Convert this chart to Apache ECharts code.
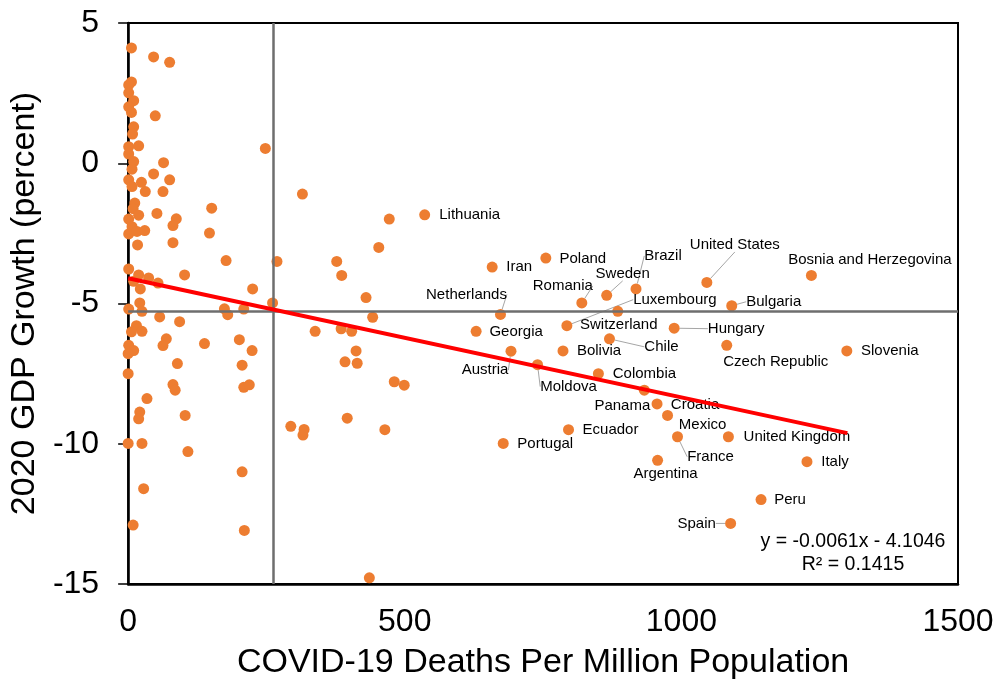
<!DOCTYPE html>
<html><head><meta charset="utf-8">
<script src="https://cdn.jsdelivr.net/npm/echarts@6/dist/echarts.min.js"></script>
<style>html,body{margin:0;padding:0;background:#fff}#c{width:998px;height:685px}</style>
</head><body><div id="c"></div><script>
const FONT = '"Liberation Sans", Arial, Helvetica, sans-serif';

// Unlabeled countries: deaths per million, GDP growth
const otherDeaths = [6,46,75,6,1,1,10,1,6,49,10,8,1,19,1,10,7,64,248,46,1,24,75,7,31,63,12,9,315,151,1,19,52,87,81,7,1,16,30,147,17,81,177,269,1,19,37,54,102,10,22,225,261,21,
  1,25,57,93,174,180,209,15,6,25,1,10,0,69,63,138,201,224,89,206,0,81,85,209,219,34,21,19,103,0,25,108,206,28,9,210,
  472,453,377,386,430,442,338,385,404,412,392,414,481,499,396,294,318,316,464,436];
const otherGrowth = [4.11,3.79,3.60,2.90,2.79,2.51,2.23,2.01,1.81,1.69,1.30,1.04,0.59,0.62,0.33,0.06,-0.21,0.02,0.53,-0.38,-0.59,-0.68,-0.59,-0.83,-1.01,-1.01,-1.42,-1.62,-1.10,-1.60,-1.99,-1.85,-1.79,-1.98,-2.22,-2.26,-2.52,-2.43,-2.40,-2.49,-2.91,-2.83,-3.47,-3.50,-3.77,-3.98,-4.09,-4.27,-3.98,-4.21,-4.48,-4.48,-4.98,-4.98,
  -5.20,-5.28,-5.48,-5.65,-5.19,-5.40,-5.20,-5.79,-6.01,-5.99,-6.49,-6.68,-6.79,-6.26,-6.50,-6.43,-6.29,-6.68,-7.14,-7.20,-7.50,-7.89,-8.09,-7.99,-7.90,-8.39,-8.87,-9.11,-8.99,-9.99,-9.99,-10.28,-11.0,-11.6,-12.9,-13.09,
  -1.99,-3.0,-3.50,-4.0,-4.79,-5.49,-5.99,-5.90,-5.99,-6.69,-7.08,-7.13,-7.79,-7.91,-9.09,-9.38,-9.49,-9.69,-9.50,-14.78];

// Labeled countries
const labeledNames = ['Lithuania','Iran','Poland','Netherlands','Georgia','Austria','Moldova','Portugal','Romania','Sweden','Brazil','Switzerland','Luxembourg','Hungary','Chile','Bolivia','Colombia','Panama','Croatia','Mexico','France','Argentina','United Kingdom','Italy','Peru','Spain','Ecuador','United States','Bosnia and Herzegovina','Bulgaria','Czech Republic','Slovenia'];
const labeledDeaths = [536,658,755,673,629,692,740,678,820,865,918,885,793,987,870,786,850,933,956,975,993,957,1085,1227,1144,1089,796,1046,1235,1091,1082,1299];
const labeledGrowth = [-1.84,-3.70,-3.38,-5.39,-5.99,-6.70,-7.18,-9.99,-4.98,-4.71,-4.48,-5.28,-5.79,-5.88,-6.26,-6.69,-7.50,-8.09,-8.58,-8.99,-9.75,-10.59,-9.75,-10.64,-11.99,-12.84,-9.50,-4.25,-4.00,-5.08,-6.49,-6.69];

// Trendline (as drawn) and reference means
const trendDeaths = [0, 1300];
const trendGrowth = [-4.10, -9.62];
const meanDeaths = 262;
const meanGrowth = -5.28;

const xTicks = [0, 500, 1000, 1500];
const yTicks = [-15, -10, -5, 0, 5];
const equationText = ['y = -0.0061x - 4.1046', 'R\u00B2 = 0.1415'];

// Label layout: [dx, dy, leaderLine]
const labelLayoutMap = {
  'Lithuania':[45,0,false],'Iran':[27,0,false],'Poland':[37,0.5,false],'Netherlands':[-34,-20,true],
  'Georgia':[40,1,false],'Austria':[-26,19,true],'Moldova':[31,22,true],'Portugal':[42,0.5,false],
  'Romania':[-19,-17,true],'Sweden':[16,-22,true],'Brazil':[27,-33,true],'Switzerland':[1,14,false],
  'Luxembourg':[108,-26,true],'Hungary':[62,0.5,true],'Chile':[52,8,true],'Bolivia':[36,0,false],
  'Colombia':[46,0,false],'Panama':[-22,16,false],'Croatia':[38,0.7,false],'Mexico':[35,9,false],
  'France':[33,20,true],'Argentina':[8,14,false],'United Kingdom':[68.5,0,false],'Italy':[28,0,false],
  'Peru':[29,0,false],'Spain':[-34,0,true],'Ecuador':[42,0,false],'United States':[28,-38,true],
  'Bosnia and Herzegovina':[58.5,-16,false],'Bulgaria':[42,-4,true],'Czech Republic':[49,17,false],'Slovenia':[43,0,false]
};

const chart = echarts.init(document.getElementById('c'), null, {renderer:'canvas'});
const ORANGE = '#ED7D31';

const otherData = otherDeaths.map((d, i) => [d, otherGrowth[i]]);
const labeledData = labeledNames.map((n, i) => ({
  name: n,
  value: [labeledDeaths[i], labeledGrowth[i]],
  labelLine: { show: labelLayoutMap[n][2] }
}));

chart.setOption({
  animation: false,
  backgroundColor: '#fff',
  grid: { left: 126, right: 40, top: 23, bottom: 100, show: true, borderColor: '#000', borderWidth: 2, containLabel: false },
  xAxis: {
    type: 'value', min: xTicks[0], max: xTicks[xTicks.length-1], interval: 500,
    name: 'COVID-19 Deaths Per Million Population', nameLocation: 'middle', nameGap: 62,
    nameTextStyle: { fontFamily: FONT, fontSize: 34, color: '#000' },
    axisLine: { show: true, onZero: false, lineStyle: { color: '#000', width: 2.5 } },
    axisTick: { show: false },
    splitLine: { show: false },
    axisLabel: { fontFamily: FONT, fontSize: 32, color: '#000', margin: 22, formatter: v => String(v) }
  },
  yAxis: {
    type: 'value', min: yTicks[0], max: yTicks[yTicks.length-1], interval: 5,
    name: '2020 GDP Growth (percent)', nameLocation: 'middle', nameGap: 82,
    nameTextStyle: { fontFamily: FONT, fontSize: 34, color: '#000' },
    axisLine: { show: true, onZero: false, lineStyle: { color: '#000', width: 2.5 } },
    axisTick: { show: true, inside: false, length: 10, lineStyle: { color: '#000', width: 1.5 } },
    splitLine: { show: false },
    axisLabel: { fontFamily: FONT, fontSize: 32, color: '#000', margin: 29, formatter: v => String(v) }
  },
  graphic: [
    { type: 'text', x: 853, y: 542, z: 100, style: { text: equationText[0], fontFamily: FONT, fontSize: 19.5, fill: '#000', align: 'center', verticalAlign: 'middle' } },
    { type: 'text', x: 853, y: 564.5, z: 100, style: { text: equationText[1], fontFamily: FONT, fontSize: 19.5, fill: '#000', align: 'center', verticalAlign: 'middle' } }
  ],
  series: [
    {
      type: 'scatter', name: 'means', data: [], z: 1,
      markLine: {
        silent: true, symbol: ['none','none'], label: { show: false },
        lineStyle: { color: '#6e6e6e', width: 2.5, type: 'solid' },
        data: [ { xAxis: meanDeaths }, { yAxis: meanGrowth } ]
      }
    },
    {
      type: 'scatter', name: 'other', data: otherData, symbol: 'circle', symbolSize: 11, z: 3,
      itemStyle: { color: ORANGE, opacity: 1 }
    },
    {
      type: 'scatter', name: 'labeled', data: labeledData, symbol: 'circle', symbolSize: 11, z: 3,
      itemStyle: { color: ORANGE, opacity: 1 },
      label: { show: true, position: 'inside', formatter: '{b}', fontFamily: FONT, fontSize: 15, color: '#000' },
      labelLine: { show: true, lineStyle: { color: '#a6a6a6', width: 1 } },
      labelLayout: function (params) {
        const n = labeledNames[params.dataIndex];
        const o = labelLayoutMap[n];
        return { dx: o[0], dy: o[1] };
      }
    },
    {
      type: 'line', name: 'trend', data: trendDeaths.map((d, i) => [d, trendGrowth[i]]),
      symbol: 'none', z: 5, lineStyle: { color: '#FF0000', width: 4 }
    }
  ]
});
</script></body></html>
